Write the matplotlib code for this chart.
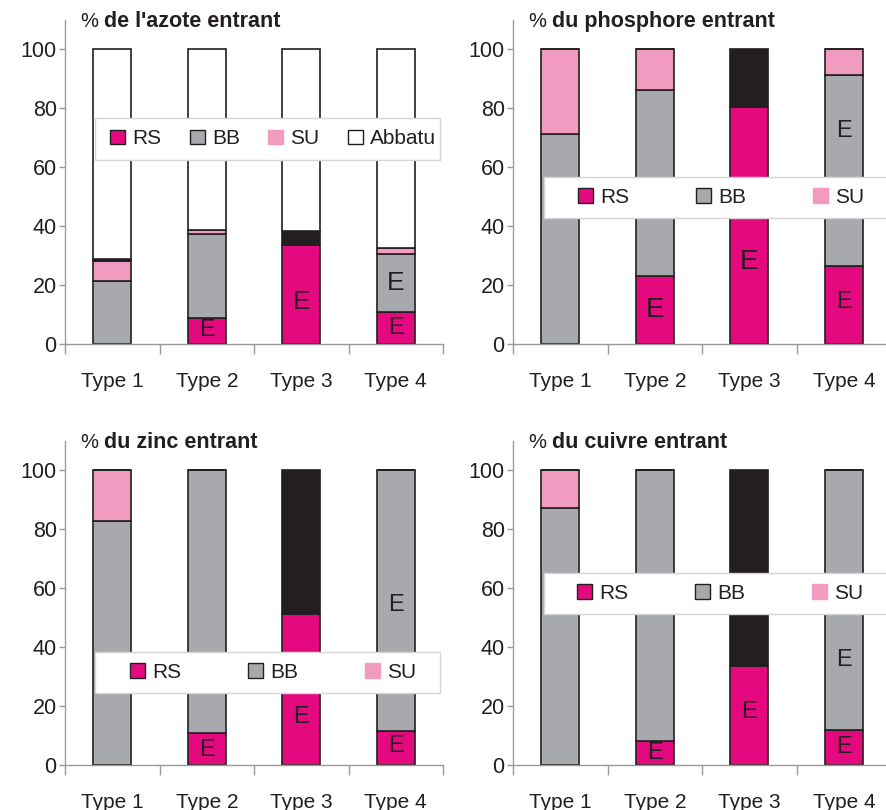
import numpy as np
import matplotlib.pyplot as plt
from matplotlib.patches import Patch, Rectangle

plt.rcParams['font.family'] = ['Liberation Sans', 'DejaVu Sans']

types = ['Type 1', 'Type 2', 'Type 3', 'Type 4']

# parts (%) of incoming element, stacked bottom to top
azote_rs = [0, 8.7, 33.7, 10.8]
azote_bb = [21.4, 28.7, 0, 19.8]
azote_su = [6.9, 1.4, 0, 1.9]
azote_autre = [0.6, 0, 4.7, 0]
azote_abbatu = [71.1, 61.2, 61.6, 67.5]

phos_rs = [0, 23.1, 80.5, 26.5]
phos_bb = [71.4, 63.3, 0, 64.9]
phos_su = [28.6, 13.6, 0, 8.6]
phos_autre = [0, 0, 19.5, 0]

zinc_rs = [0, 11.0, 51.3, 11.6]
zinc_bb = [82.7, 89.0, 0, 88.4]
zinc_su = [17.3, 0, 0, 0]
zinc_autre = [0, 0, 48.7, 0]

cuivre_rs = [0, 8.3, 33.6, 11.9]
cuivre_bb = [87.2, 91.7, 0, 88.1]
cuivre_su = [12.8, 0, 0, 0]
cuivre_autre = [0, 0, 66.4, 0]

# "E" marks: (type index, y, fontsize)
azote_e = [(1, 4.8, 17), (2, 14.4, 19), (3, 20.6, 19), (3, 5.3, 17)]
phos_e = [(1, 11.6, 20), (2, 28.0, 20), (3, 72.2, 17), (3, 14.4, 17)]
zinc_e = [(1, 5.1, 17), (2, 16.4, 17), (3, 54.4, 17), (3, 6.5, 17)]
cuivre_e = [(1, 4.2, 17), (2, 18.1, 17), (3, 35.7, 17), (3, 6.2, 17)]

c_rs = '#E5097F'
c_bb = '#A7A9AC'
c_su = '#F29BC1'
c_autre = '#231F20'
c_txt = '#231F20'
c_axis = '#9a9a9a'

fig = plt.figure(figsize=(8.87, 8.1), dpi=100)

panels = [
    dict(rect=[0.0733, 0.5753, 0.4262, 0.4], title=" de l'azote entrant",
         series=[(azote_rs, c_rs), (azote_bb, c_bb), (azote_su, c_su),
                 (azote_autre, c_autre), (azote_abbatu, 'white')],
         marks=azote_e, leg_box=(0.079, 0.569, 0.913, 0.13), leg_x=0.119,
         colsp=1.35, abbatu=True),
    dict(rect=[0.5784, 0.5753, 0.4262, 0.4], title=' du phosphore entrant',
         series=[(phos_rs, c_rs), (phos_bb, c_bb), (phos_su, c_su),
                 (phos_autre, c_autre)],
         marks=phos_e, leg_box=(0.082, 0.390, 0.913, 0.124), leg_x=0.172,
         colsp=3.2, abbatu=False),
    dict(rect=[0.0733, 0.0556, 0.4262, 0.4], title=' du zinc entrant',
         series=[(zinc_rs, c_rs), (zinc_bb, c_bb), (zinc_su, c_su),
                 (zinc_autre, c_autre)],
         marks=zinc_e, leg_box=(0.079, 0.223, 0.913, 0.126), leg_x=0.172,
         colsp=3.2, abbatu=False),
    dict(rect=[0.5784, 0.0556, 0.4262, 0.4], title=' du cuivre entrant',
         series=[(cuivre_rs, c_rs), (cuivre_bb, c_bb), (cuivre_su, c_su),
                 (cuivre_autre, c_autre)],
         marks=cuivre_e, leg_box=(0.082, 0.467, 0.913, 0.124), leg_x=0.169,
         colsp=3.2, abbatu=False),
]

x = np.arange(1, len(types) + 1)

for p in panels:
    ax = fig.add_axes(p['rect'])
    bottom = np.zeros(len(types))
    for vals, col in p['series']:
        vals = np.array(vals, dtype=float)
        ax.bar(x, vals, width=0.4, bottom=bottom, color=col,
               edgecolor=c_txt, linewidth=1.2, zorder=2)
        bottom += vals

    for i, y, fs in p['marks']:
        ax.text(x[i], y, 'E', ha='center', va='center', fontsize=fs,
                color=c_txt, zorder=3)

    ax.set_xlim(0.5, 4.5)
    ax.set_ylim(0, 110)
    ax.set_yticks(np.arange(0, 101, 20))
    ax.set_xticks(x)
    ax.set_xticklabels(types)
    ax.set_xticks(np.arange(0.5, 4.6, 1), minor=True)
    ax.tick_params(axis='x', which='major', length=0, pad=20, labelsize=15,
                   labelcolor=c_txt)
    ax.tick_params(axis='x', which='minor', length=7, width=1, color=c_axis,
                   direction='out')
    ax.tick_params(axis='y', length=4, width=1, color=c_axis, pad=2,
                   labelsize=15.5, labelcolor=c_txt)
    for s in ['top', 'right']:
        ax.spines[s].set_visible(False)
    for s in ['left', 'bottom']:
        ax.spines[s].set_color(c_axis)
        ax.spines[s].set_linewidth(1)

    # title: plain % sign followed by bold text
    t1 = ax.text(0.04, 0.995, '%', transform=ax.transAxes, fontsize=14.5,
                 va='center', ha='left', color=c_txt)
    ax.annotate(p['title'], xy=(1, 0.5), xycoords=t1, va='center', ha='left',
                fontsize=15.5, fontweight='bold', color=c_txt)

    # legend panel laid over the bars
    bx, by, bw, bh = p['leg_box']
    ax.add_patch(Rectangle((bx, by), bw, bh, transform=ax.transAxes,
                           facecolor='white', edgecolor='#d6d6d6', lw=1,
                           zorder=5, clip_on=False))
    handles = [Patch(facecolor=c_rs, edgecolor=c_txt, lw=1, label='RS'),
               Patch(facecolor=c_bb, edgecolor=c_txt, lw=1, label='BB'),
               Patch(facecolor=c_su, edgecolor=c_su, lw=1, label='SU')]
    if p['abbatu']:
        handles.append(Patch(facecolor='white', edgecolor=c_txt, lw=1,
                             label='Abbatu'))
    leg = ax.legend(handles=handles, ncol=len(handles), loc='center left',
                    bbox_to_anchor=(p['leg_x'], by + bh / 2), frameon=False,
                    borderpad=0, borderaxespad=0, fontsize=15,
                    handlelength=0.72, handleheight=0.7, handletextpad=0.35,
                    columnspacing=p['colsp'], labelcolor=c_txt)
    leg.set_zorder(6)

fig.savefig('out.png', dpi=100)
